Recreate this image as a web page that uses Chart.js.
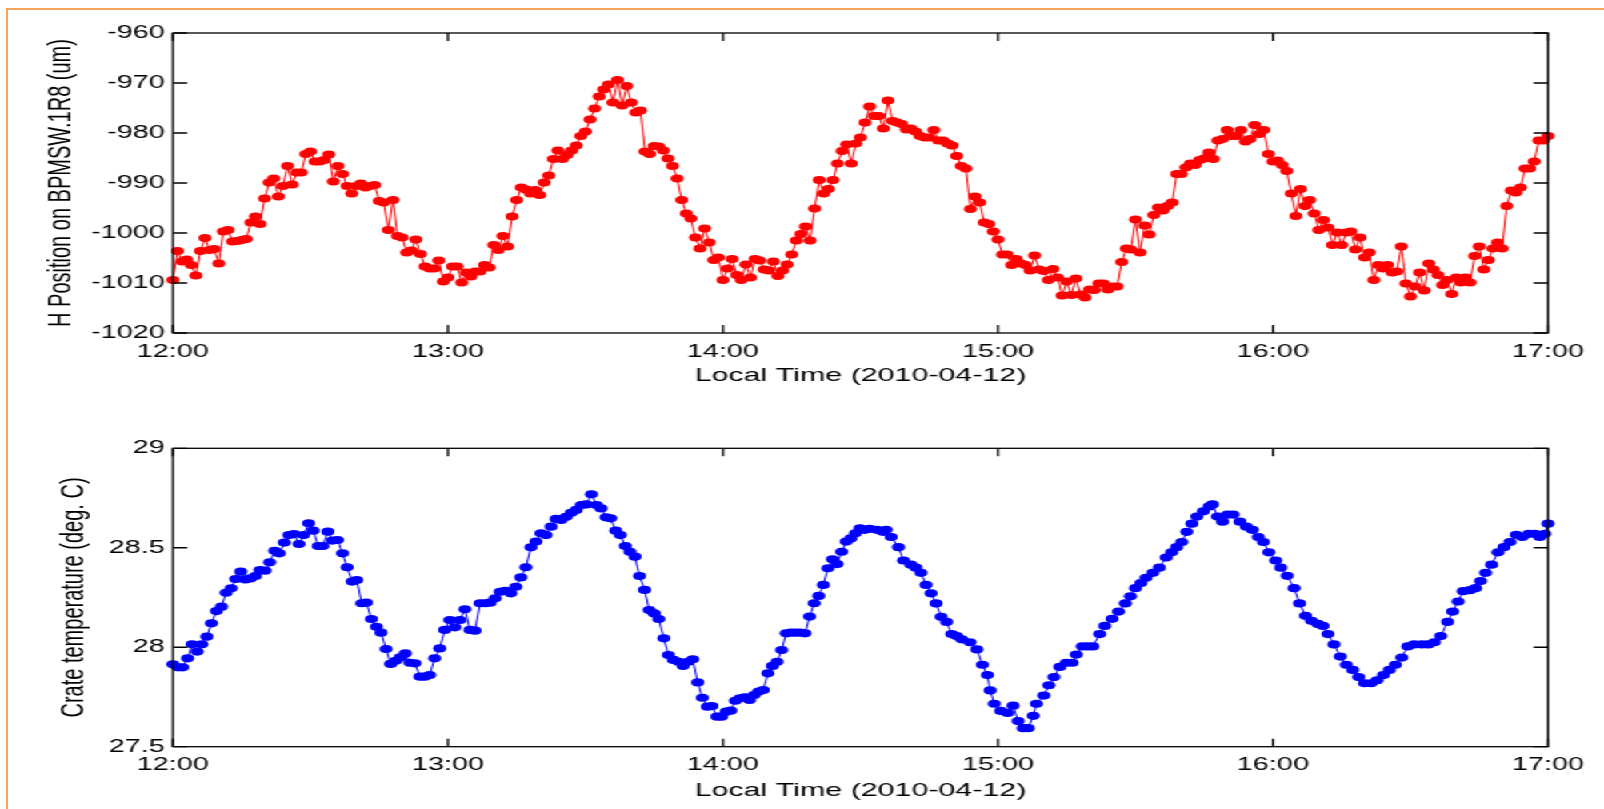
<!DOCTYPE html>
<html>
<head>
<meta charset="utf-8">
<script src="https://cdn.jsdelivr.net/npm/chart.js@4.4.1/dist/chart.umd.min.js"></script>
<style>
  html, body { margin: 0; padding: 0; background: #fff; }
  body { width: 1604px; height: 809px; position: relative; overflow: hidden; }
  #frame { position: absolute; left: 6px; top: 8px; width: 1700px; height: 900px;
           border-left: 2px solid #F8A45E; border-top: 2px solid #F8A45E; }
  /* the original figure is stretched horizontally, so draw narrow and stretch */
  #stretch { position: absolute; left: 0; top: 0; width: 1003px; height: 809px;
             transform: scaleX(1.6); transform-origin: 0 0; }
  canvas { position: absolute; left: 0; }
</style>
</head>
<body>
<div id="frame"></div>
<div id="stretch">
  <canvas id="chart1" width="1003" height="400" style="top:0"></canvas>
  <canvas id="chart2" width="1003" height="409" style="top:400px"></canvas>
</div>
<script>
// x axis: minutes after 12:00
const hourMinutes = [0, 60, 120, 180, 240, 300];
const hourLabels = ["12:00", "13:00", "14:00", "15:00", "16:00", "17:00"];

const posTicks = [-1020, -1010, -1000, -990, -980, -970, -960];
const tempTicks = [27.5, 28, 28.5, 29];

// H position, one sample per minute 12:00 .. 17:00
const posValues = [
  -1009.4, -1003.6, -1005.7, -1005.3, -1006.4, -1008.5, -1003.6, -1001.0, -1003.4, -1003.2,
  -1006.1, -999.7, -999.4, -1001.7, -1001.6, -1001.4, -1001.2, -997.9, -996.7, -998.2,
  -993.1, -989.9, -989.1, -992.7, -990.6, -986.6, -990.3, -987.9, -987.9, -984.2,
  -983.7, -985.7, -985.7, -985.4, -984.3, -989.7, -986.6, -988.2, -990.6, -992.1,
  -990.6, -990.1, -990.9, -990.6, -990.4, -993.6, -993.9, -999.4, -993.4, -1000.6,
  -1000.9, -1003.9, -1003.5, -1001.3, -1004.2, -1006.7, -1007.1, -1007.1, -1005.5, -1009.7,
  -1008.9, -1006.7, -1006.7, -1009.9, -1007.9, -1008.7, -1007.7, -1007.7, -1006.4, -1006.9,
  -1002.4, -1003.4, -1000.6, -1002.7, -996.7, -993.4, -990.9, -991.3, -992.1, -991.4,
  -992.4, -989.9, -988.5, -985.2, -983.5, -985.2, -984.4, -983.5, -982.5, -980.6,
  -979.7, -977.3, -975.1, -972.7, -971.3, -970.3, -973.9, -969.4, -974.5, -970.6,
  -973.9, -975.9, -975.5, -983.7,
  -984.2, -982.6, -982.7, -983.5, -985.1, -986.6,
  -989.1, -993.4, -996.1, -997.1, -1000.9, -1003.1, -999.1, -1001.9, -1005.4, -1004.9,
  -1009.4, -1007.1, -1005.2, -1008.4, -1009.4, -1006.3, -1008.9, -1005.2, -1005.5, -1007.3,
  -1007.5, -1005.7, -1008.6, -1007.5, -1006.3, -1004.3, -1001.5, -1000.2, -998.7, -1001.5,
  -995.1, -989.4, -992.1, -991.2, -989.4, -986.1, -983.6, -982.3, -986.1, -982.1,
  -980.9, -977.9, -974.7, -976.6, -976.6, -979.1, -973.5, -977.6, -977.9, -978.2,
  -979.3, -979.1, -979.7, -980.6, -980.9, -980.9, -979.4, -981.5, -981.5, -982.1,
  -982.5, -984.6, -986.6, -987.1, -995.2, -992.7, -993.9, -997.9, -998.2, -999.7,
  -1001.3, -1004.3, -1004.3, -1006.4, -1005.2, -1006.1, -1006.4, -1007.5, -1004.5, -1007.3,
  -1007.6, -1009.4, -1007.2, -1008.9, -1012.5, -1009.7, -1012.4, -1009.1, -1012.3, -1012.9,
  -1011.3,
  -1011.4, -1010.1, -1010.1, -1011.3, -1010.7, -1010.7, -1005.8, -1003.1, -1003.3, -997.3,
  -1003.9, -998.5, -1000.3, -996.4, -994.9, -995.5, -994.6, -993.9, -988.2, -988.2,
  -986.9, -986.1, -986.4, -985.4, -985.1, -983.9, -985.2, -981.5, -981.2, -979.4,
  -980.6, -980.6, -979.4, -981.7, -981.2, -978.4, -980.2, -979.4, -984.2, -985.7,
  -985.5, -986.4, -987.6, -992.1, -996.6, -991.2, -994.6, -993.4, -996.1, -999.4,
  -997.4, -998.9, -1002.4, -999.9, -1002.4, -999.9, -999.7, -1003.3, -1000.9, -1004.9,
  -1003.9, -1009.4, -1006.4, -1007.1, -1006.4, -1007.9, -1007.7, -1002.7, -1010.1, -1012.7,
  -1010.7, -1007.9, -1011.5, -1006.1, -1007.3, -1008.4, -1010.4, -1009.4, -1012.2, -1008.9,
  -1009.9, -1008.9, -1009.9, -1004.6, -1002.7, -1007.3, -1005.4, -1003.1, -1001.9, -1003.1,
  -994.6, -991.5, -991.9, -990.9, -987.1, -987.1, -985.7, -981.5, -981.5, -980.6
];

// crate temperature: sample time (minutes after 12:00) and value
const tempMinutes = [
  0, 1.1, 2.1, 3.2, 4.2, 5.3, 6.3, 7.4, 8.4, 9.5,
  10.6, 11.6, 12.7, 13.7, 14.8, 15.8, 16.9, 18.0, 19.0, 20.1,
  21.1, 22.2, 23.2, 24.3, 25.3, 26.4, 27.5, 28.5, 29.6, 30.6,
  31.7, 32.7, 33.8, 34.8, 35.9, 37.0, 38.0, 39.1, 40.1, 41.2,
  42.2, 43.3, 44.4, 45.4, 46.5, 47.5, 48.6, 49.6, 50.7, 51.7,
  52.8, 53.9, 54.9, 56.0, 57.1, 58.2, 59.3, 60.4, 61.5, 62.6,
  63.7, 64.8, 65.9, 67.0, 68.1, 69.2, 70.3, 71.4, 72.5, 73.7,
  74.8, 75.9, 77.0, 78.1, 79.2, 80.3, 81.4, 82.5, 83.6, 84.7,
  85.8, 86.9, 88.0, 89.1, 90.2, 91.3, 92.4, 93.4, 94.5, 95.5,
  96.6, 97.6, 98.7, 99.7, 100.8, 101.8, 102.9, 103.9, 105.0, 106.0,
  107.1, 108.1, 109.2, 110.3, 111.3, 112.4, 113.4, 114.5, 115.5, 116.6,
  117.6, 118.7, 119.7, 120.7, 121.7, 122.7, 123.7, 124.8, 125.8, 126.8,
  127.8, 128.8, 129.8, 130.8, 131.8, 132.8, 133.8, 134.8, 135.8, 136.8,
  137.9, 138.9, 139.9, 140.9, 141.9, 142.9, 143.9, 144.9, 145.9, 146.9,
  147.9, 148.9, 149.9,
  150.9, 152.0, 153.6, 154.9, 155.6, 156.7, 158.3, 159.4, 161.0, 162.1,
  163.2, 164.3, 165.4, 166.5, 167.6, 168.8, 169.9, 171.0, 172.1, 173.9,
  175.4, 176.6, 177.7, 178.3, 179.2, 180.6, 182.1, 183.3, 184.4, 185.5,
  186.6, 187.7, 188.4, 190.0, 191.1, 192.2, 193.5, 194.9, 196.2, 197.1,
  198.4, 199.6, 200.7, 202.2, 203.3, 204.9, 206.3, 207.8, 208.9, 210.0,
  211.2, 212.3, 213.8, 215.2, 216.7, 217.9, 219.0, 220.1, 221.2, 222.3,
  223.4, 224.8, 226.1, 226.8, 227.9, 229.0, 230.1, 231.3, 232.8, 234.2,
  235.5, 236.8, 237.9, 239.1, 240.6, 241.7, 243.1, 244.6, 245.8, 247.1,
  248.4, 249.8, 250.9, 252.0, 253.3, 254.7, 256.0, 257.4, 258.7, 260.0,
  261.4, 262.7, 264.1, 265.4, 266.7, 268.1, 269.4, 270.8, 272.5, 273.9,
  275.2, 276.6, 278.1, 279.2, 280.4, 281.5, 283.0, 284.2, 285.3, 286.4,
  287.7, 289.1, 290.4, 291.7, 293.1, 294.4, 295.8, 297.1, 298.2, 299.3,
  300.0
];
const tempValues = [
  27.914, 27.899, 27.899, 27.944, 28.015, 27.978, 28.015, 28.053, 28.120, 28.182,
  28.204, 28.274, 28.296, 28.343, 28.380, 28.341, 28.346, 28.358, 28.388, 28.385,
  28.427, 28.485, 28.472, 28.526, 28.564, 28.569, 28.519, 28.564, 28.623, 28.586,
  28.509, 28.509, 28.581, 28.536, 28.539, 28.472, 28.402, 28.330, 28.338, 28.221,
  28.224, 28.142, 28.103, 28.073, 27.991, 27.916, 27.932, 27.949, 27.969, 27.922,
  27.919, 27.852, 27.852, 27.860, 27.944, 27.994, 28.087, 28.137, 28.100, 28.137,
  28.191, 28.087, 28.083, 28.221, 28.221, 28.224, 28.246, 28.279, 28.284, 28.271,
  28.304, 28.351, 28.402, 28.502, 28.531, 28.573, 28.564, 28.606, 28.645, 28.640,
  28.656, 28.676, 28.690, 28.715, 28.718, 28.769, 28.715, 28.698, 28.653, 28.648,
  28.586, 28.564, 28.509, 28.480, 28.455, 28.358, 28.288, 28.187, 28.170, 28.142,
  28.045, 27.961, 27.936, 27.927, 27.906, 27.927, 27.939, 27.823, 27.746, 27.701,
  27.704, 27.651, 27.651, 27.676, 27.681, 27.731, 27.743, 27.748, 27.735, 27.760,
  27.777, 27.785, 27.869, 27.906, 27.927, 27.986, 28.070, 28.073, 28.073, 28.073,
  28.070, 28.154, 28.221, 28.258, 28.313, 28.397, 28.442, 28.418, 28.480, 28.531,
  28.547, 28.573, 28.598,
  28.590, 28.595, 28.590, 28.580, 28.590, 28.554, 28.503, 28.436, 28.415, 28.400,
  28.374, 28.313, 28.271, 28.220, 28.153, 28.127, 28.066, 28.056, 28.040, 28.025,
  27.989, 27.912, 27.860, 27.783, 27.716, 27.680, 27.670, 27.706, 27.629, 27.593,
  27.593, 27.655, 27.716, 27.757, 27.809, 27.850, 27.901, 27.922, 27.922, 27.963,
  28.004, 28.004, 28.004, 28.066, 28.107, 28.143, 28.179, 28.220, 28.256, 28.297,
  28.323, 28.349, 28.374, 28.400, 28.451, 28.477, 28.503, 28.529, 28.580, 28.621,
  28.657, 28.683, 28.708, 28.718, 28.657, 28.631, 28.667, 28.667, 28.631, 28.606,
  28.590, 28.554, 28.529, 28.477, 28.436, 28.400, 28.359, 28.297, 28.220, 28.158,
  28.133, 28.117, 28.107, 28.066, 28.014, 27.953, 27.912, 27.886, 27.850, 27.819,
  27.819, 27.834, 27.860, 27.886, 27.912, 27.948, 28.004, 28.014, 28.014, 28.014,
  28.025, 28.056, 28.127, 28.179, 28.230, 28.282, 28.287, 28.297, 28.333, 28.374,
  28.415, 28.477, 28.503, 28.529, 28.565, 28.554, 28.570, 28.570, 28.554, 28.570,
  28.621
];

const FONT = "'Liberation Sans', Arial, Helvetica, sans-serif";

const boxTicks = {
  id: "boxTicks",
  afterDraw(chart) {
    const { ctx, chartArea: a, scales: { x, y } } = chart;
    ctx.save();
    ctx.strokeStyle = "#000";
    ctx.lineWidth = 1.3;
    ctx.strokeRect(a.left, a.top, a.right - a.left, a.bottom - a.top);
    ctx.beginPath();
    y.ticks.forEach(t => {
      const py = y.getPixelForValue(t.value);
      ctx.moveTo(a.left, py); ctx.lineTo(a.left + 9, py);
      ctx.moveTo(a.right, py); ctx.lineTo(a.right - 9, py);
    });
    x.ticks.forEach(t => {
      const px = x.getPixelForValue(t.value);
      ctx.moveTo(px, a.bottom); ctx.lineTo(px, a.bottom - 8);
      ctx.moveTo(px, a.top); ctx.lineTo(px, a.top + 8);
    });
    ctx.stroke();
    ctx.restore();
  }
};

function makeChart(id, points, color, yTicks, yTitle, opt) {
  return new Chart(document.getElementById(id), {
    type: "line",
    data: {
      datasets: [{
        data: points,
        borderColor: color,
        backgroundColor: color,
        borderWidth: 1,
        pointRadius: 4.1,
        pointBorderWidth: 0,
        pointBackgroundColor: color,
        tension: 0,
        clip: 10
      }]
    },
    options: {
      responsive: false,
      animation: false,
      devicePixelRatio: 1,
      layout: { padding: { left: 0, right: 35.5, top: opt.padTop, bottom: 0 } },
      plugins: { legend: { display: false }, tooltip: { enabled: false } },
      scales: {
        x: {
          type: "linear",
          min: hourMinutes[0],
          max: hourMinutes[hourMinutes.length - 1],
          grid: { display: false, drawTicks: false },
          border: { display: false },
          afterBuildTicks: s => { s.ticks = hourMinutes.map(v => ({ value: v })); },
          ticks: {
            autoSkip: false, maxRotation: 0, padding: 8, color: "#000",
            font: { family: FONT, size: 18 },
            callback: (v, i) => hourLabels[i]
          },
          title: {
            display: true, text: "Local Time (2010-04-12)", color: "#000",
            font: { family: FONT, size: 19 },
            padding: { top: 0, bottom: opt.xTitlePad }
          },
          afterFit: s => { s.height = opt.xAxisH; }
        },
        y: {
          min: yTicks[0],
          max: yTicks[yTicks.length - 1],
          grid: { display: false, drawTicks: false },
          border: { display: false },
          afterBuildTicks: s => { s.ticks = yTicks.map(v => ({ value: v })); },
          ticks: {
            padding: 5, color: "#000",
            font: { family: FONT, size: 18 },
            callback: v => String(v)
          },
          title: {
            display: true, text: yTitle, color: "#000",
            font: { family: FONT, size: 20 },
            padding: { top: opt.yTitlePad, bottom: 0 }
          },
          afterFit: s => { s.width = 108.1; }
        }
      }
    },
    plugins: [boxTicks]
  });
}

const posPoints = posValues.map((v, i) => ({ x: i, y: v }));
const tempPoints = tempValues.map((v, i) => ({ x: tempMinutes[i], y: v }));

makeChart("chart1", posPoints, "#FF0000", posTicks, "H Position on BPMSW.1R8 (um)",
  { padTop: 33, xAxisH: 67, xTitlePad: 13.1, yTitlePad: 26.1 });
makeChart("chart2", tempPoints, "#0000FF", tempTicks, "Crate temperature (deg. C)",
  { padTop: 48.3, xAxisH: 62.3, xTitlePad: 6.6, yTitlePad: 34.3 });
</script>
</body>
</html>
